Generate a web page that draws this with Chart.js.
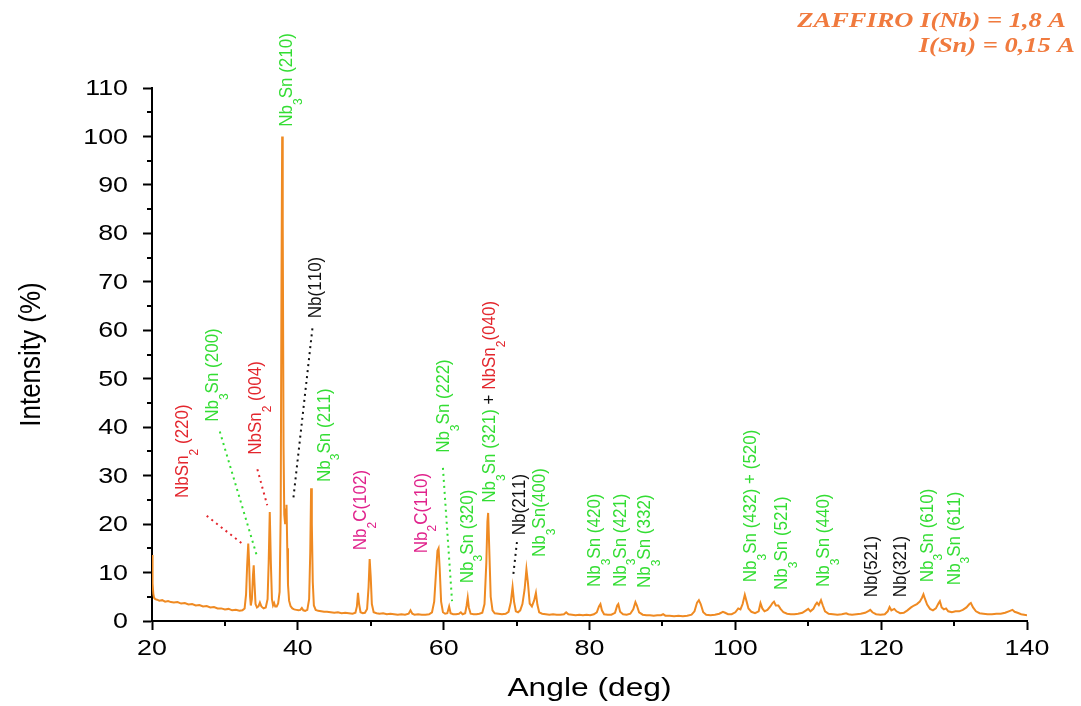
<!DOCTYPE html>
<html>
<head>
<meta charset="utf-8">
<script src="https://cdn.jsdelivr.net/npm/chart.js@4.4.1/dist/chart.umd.min.js"></script>
<style>
  html, body { margin: 0; padding: 0; background: #ffffff; }
  #wrap { width: 1081px; height: 706px; position: relative; }
</style>
</head>
<body>
<div id="wrap"><canvas id="xrd" width="1081" height="706"></canvas></div>
<script>
// XRD scan: diffraction angle 2θ (deg) and relative intensity (%)
const angle = [
  20.00, 20.05, 20.10, 20.18, 20.28, 20.45, 20.7, 21.0, 21.4, 21.8,
  22.2, 22.6, 23.0, 23.5, 24.0, 24.5, 25.0, 25.5, 26.0, 26.5,
  27.0, 27.5, 28.0, 28.5, 29.0, 29.5, 30.0, 30.5, 31.0, 31.5,
  32.0, 32.4, 32.7, 32.9, 33.05, 33.2, 33.32, 33.45, 33.55, 33.7,
  33.85, 33.95, 34.05, 34.2, 34.4, 34.6, 34.8, 35.0, 35.3, 35.6,
  35.85, 36.0, 36.15, 36.3, 36.45, 36.6, 36.75, 36.9, 37.1, 37.3,
  37.5, 37.65, 37.76, 37.85, 37.9, 37.96, 38.04, 38.14, 38.26, 38.38,
  38.45, 38.55, 38.65, 38.8, 39.0, 39.25, 39.5, 39.8, 40.1, 40.35,
  40.55, 40.75, 41.0, 41.3, 41.55, 41.7, 41.82, 41.92, 42.05, 42.2,
  42.45, 42.8, 43.2, 43.6, 44.0, 44.5, 45.0, 45.5, 46.0, 46.5,
  47.0, 47.5, 47.9, 48.1, 48.25, 48.4, 48.6, 48.9, 49.2, 49.5,
  49.7, 49.85, 50.0, 50.15, 50.4, 50.8, 51.2, 51.7, 52.2, 52.7,
  53.2, 53.7, 54.2, 54.7, 55.2, 55.45, 55.7, 56.0, 56.5, 57.0,
  57.5, 58.0, 58.4, 58.7, 58.95, 59.15, 59.3, 59.45, 59.65, 59.9,
  60.2, 60.5, 60.75, 60.95, 61.3, 61.7, 62.1, 62.35, 62.6, 62.95,
  63.15, 63.3, 63.45, 63.7, 64.1, 64.5, 64.9, 65.3, 65.6, 65.85,
  66.0, 66.1, 66.25, 66.45, 66.7, 67.0, 67.5, 68.0, 68.5, 68.9,
  69.2, 69.45, 69.65, 69.9, 70.2, 70.5, 70.8, 71.1, 71.35, 71.55,
  71.8, 72.1, 72.4, 72.65, 72.85, 73.1, 73.5, 74.0, 74.5, 75.0,
  75.5, 76.0, 76.5, 76.8, 77.1, 77.6, 78.1, 78.6, 79.1, 79.6,
  80.1, 80.6, 81.0, 81.3, 81.5, 81.7, 82.0, 82.5, 83.0, 83.5,
  83.8, 83.95, 84.2, 84.6, 85.1, 85.6, 86.0, 86.3, 86.5, 86.8,
  87.3, 87.8, 88.3, 88.8, 89.3, 89.8, 90.1, 90.4, 91.0, 91.6,
  92.2, 92.8, 93.4, 94.0, 94.4, 94.75, 95.0, 95.25, 95.6, 96.0,
  96.6, 97.2, 97.8, 98.3, 98.6, 99.0, 99.5, 100.0, 100.4, 100.7,
  101.0, 101.3, 101.55, 101.8, 102.2, 102.7, 103.2, 103.45, 103.7, 104.0,
  104.4, 104.8, 105.1, 105.3, 105.55, 105.9, 106.2, 106.6, 107.1, 107.6,
  108.1, 108.6, 109.2, 109.7, 110.0, 110.3, 110.7, 111.0, 111.2, 111.45,
  111.75, 112.0, 112.3, 112.8, 113.4, 114.0, 114.6, 115.2, 115.5, 116.0,
  116.6, 117.2, 117.8, 118.3, 118.5, 118.8, 119.3, 119.9, 120.5, 120.9,
  121.15, 121.4, 121.8, 122.1, 122.6, 123.1, 123.6, 124.1, 124.5, 124.9,
  125.3, 125.6, 125.8, 126.0, 126.3, 126.7, 127.1, 127.5, 127.85, 128.05,
  128.3, 128.6, 128.9, 129.2, 129.7, 130.2, 130.7, 131.2, 131.7, 132.1,
  132.3, 132.6, 133.0, 133.5, 134.0, 134.6, 135.2, 135.8, 136.4, 137.0,
  137.5, 138.0, 138.3, 138.7, 139.2, 139.6, 140.0
];
const intensity = [
  13.6, 11.0, 7.8, 5.6, 4.8, 4.5, 4.4, 4.2, 4.3, 4.0,
  4.1, 3.9, 3.8, 3.9, 3.6, 3.7, 3.4, 3.5, 3.2, 3.3,
  3.0, 3.1, 2.8, 2.9, 2.6, 2.6, 2.4, 2.5, 2.2, 2.3,
  2.1, 2.2, 2.6, 5.5, 11.5, 16.0, 12.0, 5.0, 3.2, 4.5,
  9.5, 11.5, 8.0, 3.5, 2.8, 3.0, 3.8, 3.0, 2.6, 2.8,
  4.5, 12.0, 22.5, 12.0, 4.5, 3.2, 3.7, 3.0, 3.0, 3.6,
  6.0, 22.0, 70.0, 100.0, 87.0, 82.0, 36.0, 22.0, 20.0, 23.0,
  24.0, 15.0, 7.5, 4.2, 3.1, 2.6, 2.4, 2.3, 2.2, 2.3,
  2.7, 2.2, 2.1, 2.3, 4.5, 14.0, 27.4, 20.0, 8.0, 3.2,
  2.3, 2.1, 2.0, 1.9, 1.9, 1.8, 1.7, 1.8, 1.6, 1.7,
  1.6, 1.5, 1.7, 3.0, 5.8, 3.5, 1.8, 1.6, 1.7, 2.5,
  7.0, 12.8, 9.0, 3.5, 1.8, 1.6, 1.5, 1.6, 1.4, 1.5,
  1.4, 1.3, 1.4, 1.3, 1.5, 2.2, 1.5, 1.3, 1.4, 1.3,
  1.3, 1.4, 1.8, 4.0, 10.0, 14.5, 15.0, 11.0, 4.0, 1.8,
  1.5, 1.6, 3.0, 1.6, 1.4, 1.4, 1.5, 1.8, 1.4, 1.6,
  3.2, 4.8, 2.8, 1.5, 1.4, 1.4, 1.5, 1.7, 3.5, 12.0,
  20.5, 22.3, 15.0, 5.0, 2.2, 1.6, 1.5, 1.4, 1.5, 1.9,
  3.8, 7.0, 4.0, 2.0, 1.8, 2.2, 3.5, 6.5, 10.7, 8.0,
  3.6, 3.0, 4.2, 5.8, 3.4, 1.8, 1.5, 1.4, 1.3, 1.4,
  1.3, 1.3, 1.4, 1.8, 1.4, 1.3, 1.2, 1.3, 1.2, 1.3,
  1.2, 1.4, 1.8, 3.0, 3.5, 2.2, 1.4, 1.3, 1.3, 1.7,
  3.2, 3.5, 1.9, 1.4, 1.3, 1.5, 2.4, 3.9, 3.2, 1.8,
  1.3, 1.2, 1.2, 1.1, 1.2, 1.2, 1.4, 1.1, 1.1, 1.0,
  1.1, 1.0, 1.1, 1.3, 2.0, 3.8, 4.3, 3.5, 1.8, 1.3,
  1.2, 1.3, 1.5, 1.9, 1.7, 1.4, 1.4, 1.8, 2.6, 2.4,
  3.5, 5.4, 4.0, 2.6, 1.9, 1.6, 2.0, 3.7, 2.6, 2.0,
  2.3, 3.0, 3.7, 4.0, 3.2, 3.2, 2.5, 1.8, 1.5, 1.4,
  1.4, 1.5, 1.7, 2.2, 2.5, 2.0, 2.5, 3.4, 3.8, 3.3,
  4.3, 3.2, 2.0, 1.5, 1.4, 1.3, 1.4, 1.6, 1.4, 1.3,
  1.4, 1.5, 1.7, 2.1, 2.3, 1.8, 1.4, 1.3, 1.4, 2.0,
  2.9, 2.2, 2.5, 2.0, 1.6, 1.7, 2.2, 2.8, 3.2, 3.5,
  4.0, 4.8, 5.5, 4.6, 3.4, 2.5, 2.2, 2.6, 3.6, 4.1,
  2.8, 2.4, 2.6, 2.0, 1.8, 2.0, 2.0, 2.3, 2.8, 3.5,
  3.7, 2.8, 2.0, 1.6, 1.5, 1.4, 1.4, 1.5, 1.5, 1.7,
  2.0, 2.3, 1.9, 1.7, 1.4, 1.3, 1.2
];

// Axis ranges and tick steps
const angleRange = [20, 140];
const intensityRange = [0, 110];
const angleMajorStep = 20;
const intensityMajorStep = 10;

// Phase labels: anchor (angle, intensity) at the start of the vertical text.
// Markup: "_x" = subscript character, "[g]" "[r]" "[m]" "[k]" = colour switch.
const labelAngle = [25.0, 29.05, 34.95, 39.2, 43.2, 44.4, 49.35, 57.7, 60.75, 64.0,
  67.05, 71.15, 73.9, 81.45, 85.0, 88.3, 102.85, 107.1, 112.85, 119.45, 123.4, 127.1, 130.8];
const labelLevel = [25.4, 41.1, 34.3, 102.0, 62.5, 28.7, 14.6, 14.0, 34.7, 7.8,
  24.4, 17.7, 13.2, 7.0, 7.0, 6.8, 8.0, 6.4, 7.0, 4.9, 4.9, 8.0, 7.4];
const labelText = [
  "[r]NbSn_2 (220)", "[g]Nb_3Sn (200)", "[r]NbSn_2 (004)", "[g]Nb_3Sn (210)", "[k]Nb(110)",
  "[g]Nb_3Sn (211)", "[m]Nb_2C(102)", "[m]Nb_2C(110)", "[g]Nb_3Sn (222)", "[g]Nb_3Sn (320)",
  "[g]Nb_3Sn (321)[k] + [r]NbSn_2(040)", "[k]Nb(211)", "[g]Nb_3Sn(400)", "[g]Nb_3Sn (420)",
  "[g]Nb_3Sn (421)", "[g]Nb_3Sn (332)", "[g]Nb_3Sn (432) + (520)", "[g]Nb_3Sn (521)",
  "[g]Nb_3Sn (440)", "[k]Nb(521)", "[k]Nb(321)", "[g]Nb_3Sn (610)", "[g]Nb_3Sn (611)"
];

// Dotted leaders from a label to its reflection
const leaderFromAngle = [27.5, 29.3, 34.45, 42.0, 59.9, 70.05];
const leaderFromLevel = [21.7, 39.1, 31.3, 60.4, 31.6, 16.3];
const leaderToAngle = [32.6, 34.45, 35.8, 39.4, 61.15, 69.5];
const leaderToLevel = [15.7, 13.1, 23.9, 25.5, 4.1, 8.9];
const leaderColor = ["r", "g", "r", "k", "g", "k"];

const palette = { g: "#33dd33", r: "#e3262d", m: "#e0238c", k: "#111111" };
const lineColor = "#ef8a22";
const headerColor = "#f07a3e";
const sans = '"Liberation Sans", Arial, sans-serif';
const wide = 1.22;   // horizontal stretch of the lettering

function stretchedText(ctx, text, x, y, sx, align, baseline) {
  ctx.save();
  ctx.translate(x, y);
  ctx.scale(sx, 1);
  ctx.textAlign = align;
  ctx.textBaseline = baseline;
  ctx.fillText(text, 0, 0);
  ctx.restore();
}

const annotate = {
  id: "annotate",
  afterDraw(chart) {
    const ctx = chart.ctx;
    const xs = chart.scales.x;
    const ys = chart.scales.y;
    const area = chart.chartArea;

    // minor ticks
    ctx.save();
    ctx.strokeStyle = "#000";
    ctx.lineWidth = 2;
    for (let v = angleRange[0] + angleMajorStep / 2; v < angleRange[1]; v += angleMajorStep) {
      const px = Math.round(xs.getPixelForValue(v));
      ctx.beginPath();
      ctx.moveTo(px, area.bottom);
      ctx.lineTo(px, area.bottom + 5);
      ctx.stroke();
    }
    for (let v = intensityRange[0] + intensityMajorStep / 2; v < intensityRange[1]; v += intensityMajorStep) {
      const py = Math.round(ys.getPixelForValue(v));
      ctx.beginPath();
      ctx.moveTo(area.left, py);
      ctx.lineTo(area.left - 5, py);
      ctx.stroke();
    }
    ctx.restore();

    // tick labels
    ctx.save();
    ctx.fillStyle = "#000";
    ctx.font = "22px " + sans;
    xs.ticks.forEach((t) => {
      if (t.value % angleMajorStep !== 0) return;
      stretchedText(ctx, String(t.value), xs.getPixelForValue(t.value), 649, wide, "center", "middle");
    });
    ys.ticks.forEach((t) => {
      if (t.value % intensityMajorStep !== 0) return;
      stretchedText(ctx, String(t.value), 128, ys.getPixelForValue(t.value) + 1, wide, "right", "middle");
    });
    ctx.restore();

    // dotted leaders
    ctx.save();
    ctx.lineWidth = 2;
    ctx.setLineDash([2, 4]);
    for (let i = 0; i < leaderFromAngle.length; i++) {
      ctx.strokeStyle = palette[leaderColor[i]];
      ctx.beginPath();
      ctx.moveTo(xs.getPixelForValue(leaderFromAngle[i]), ys.getPixelForValue(leaderFromLevel[i]));
      ctx.lineTo(xs.getPixelForValue(leaderToAngle[i]), ys.getPixelForValue(leaderToLevel[i]));
      ctx.stroke();
    }
    ctx.restore();

    // vertical phase labels
    const size = 17;
    const subSize = 12;
    for (let i = 0; i < labelText.length; i++) {
      const px = xs.getPixelForValue(labelAngle[i]);
      const py = ys.getPixelForValue(labelLevel[i]);
      ctx.save();
      ctx.translate(px, py);
      ctx.scale(1.12, 1);
      ctx.rotate(-Math.PI / 2);
      ctx.textBaseline = "alphabetic";
      ctx.textAlign = "left";
      let cursor = 0;
      let color = palette.k;
      const s = labelText[i];
      let k = 0;
      while (k < s.length) {
        if (s[k] === "[" && s[k + 2] === "]") {
          color = palette[s[k + 1]];
          k += 3;
          continue;
        }
        ctx.fillStyle = color;
        if (s[k] === "_") {
          ctx.font = subSize + "px " + sans;
          ctx.fillText(s[k + 1], cursor, 8.5);
          cursor += ctx.measureText(s[k + 1]).width;
          k += 2;
        } else {
          ctx.font = size + "px " + sans;
          ctx.fillText(s[k], cursor, 0);
          cursor += ctx.measureText(s[k]).width;
          k += 1;
        }
      }
      ctx.restore();
    }

    // axis titles
    ctx.save();
    ctx.fillStyle = "#000";
    ctx.font = "25px " + sans;
    stretchedText(ctx, "Angle (deg)", (area.left + area.right) / 2, 689, 1.27, "center", "middle");
    ctx.translate(32, (area.top + area.bottom) / 2);
    ctx.scale(1.12, 1);
    ctx.rotate(-Math.PI / 2);
    ctx.font = "26px " + sans;
    ctx.textAlign = "center";
    ctx.textBaseline = "middle";
    ctx.fillText("Intensity (%)", 0, 0);
    ctx.restore();

    // header
    ctx.save();
    ctx.fillStyle = headerColor;
    ctx.font = 'italic bold 21px "Liberation Serif", "Times New Roman", serif';
    stretchedText(ctx, "ZAFFIRO I(Nb) = 1,8 A", 1066, 27, 1.26, "right", "alphabetic");
    stretchedText(ctx, "I(Sn) = 0,15 A", 1075, 52, 1.26, "right", "alphabetic");
    ctx.restore();
  }
};

const majorTickColor = (step) => (c) =>
  (c.tick && Math.abs(c.tick.value % step) < 1e-6) ? "#000" : "rgba(0,0,0,0)";

new Chart(document.getElementById("xrd"), {
  type: "line",
  data: {
    datasets: [{
      data: angle.map((a, i) => ({ x: a, y: intensity[i] })),
      borderColor: lineColor,
      borderWidth: 2,
      pointRadius: 0,
      tension: 0,
      fill: false
    }]
  },
  options: {
    responsive: false,
    animation: false,
    devicePixelRatio: 1,
    layout: { padding: { top: 88, right: 54, bottom: 0, left: 0 } },
    plugins: { legend: { display: false }, tooltip: { enabled: false } },
    scales: {
      x: {
        type: "linear",
        min: angleRange[0],
        max: angleRange[1],
        afterFit(s) { s.height = 85; },
        border: { display: true, color: "#000", width: 2 },
        grid: {
          drawOnChartArea: false,
          drawTicks: true,
          tickLength: 9,
          tickWidth: 2,
          tickColor: majorTickColor(angleMajorStep)
        },
        ticks: {
          stepSize: angleMajorStep / 2,
          autoSkip: false,
          maxRotation: 0,
          padding: 6,
          color: "rgba(0,0,0,0)",
          font: { family: sans, size: 21 },
          callback: (v) => (v % angleMajorStep === 0 ? String(v) : "")
        }
      },
      y: {
        min: intensityRange[0],
        max: intensityRange[1],
        afterFit(s) { s.width = 152; },
        border: { display: true, color: "#000", width: 2 },
        grid: {
          drawOnChartArea: false,
          drawTicks: true,
          tickLength: 9,
          tickWidth: 2,
          tickColor: majorTickColor(intensityMajorStep)
        },
        ticks: {
          stepSize: intensityMajorStep / 2,
          autoSkip: false,
          padding: 15,
          color: "rgba(0,0,0,0)",
          font: { family: sans, size: 21 },
          callback: (v) => (v % intensityMajorStep === 0 ? String(v) : "")
        }
      }
    }
  },
  plugins: [annotate]
});
</script>
</body>
</html>
